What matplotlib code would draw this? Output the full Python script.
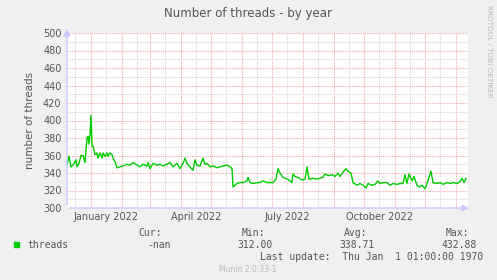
import numpy as np
import matplotlib
matplotlib.use("Agg")
import matplotlib.pyplot as plt
import matplotlib.dates as mdates
from matplotlib.ticker import MultipleLocator, FuncFormatter, NullFormatter
from matplotlib.patches import Rectangle

start = np.datetime64("2021-12-08")
days = [0, 2, 4, 6, 9, 10, 12, 14, 16, 18, 20, 21, 22, 23, 24, 25, 26, 28, 30, 31,
        33, 35, 36, 38, 40, 41, 43, 45, 46, 48, 50, 53, 56, 60, 63, 66, 70, 73, 76, 80,
        81, 83, 86, 90, 93, 96, 100, 103, 106, 110, 113, 116, 118, 120, 123, 126, 128, 130, 133, 136,
        138, 140, 143, 146, 150, 153, 156, 160, 163, 165, 166, 170, 173, 176, 180, 181, 183, 186, 190,
        193, 196, 200, 203, 206, 209, 211, 213, 216, 218, 221, 225, 226, 228, 231, 235, 238, 240, 242,
        246, 250, 253, 256, 258, 261, 265, 268, 271, 273, 276, 279, 281, 284, 286, 290, 293, 296, 299,
        301, 305, 308, 311, 313, 316, 320, 323, 326, 330, 333, 336, 338, 340, 342, 345, 347, 350, 352,
        355, 358, 360, 364, 366, 370, 373, 376, 380, 383, 386, 390, 393, 395, 397, 399]
threads = [349, 359, 347, 349, 355, 347, 351, 360, 360, 352, 380, 382, 373, 383, 406, 371, 371, 361, 363, 357,
           363, 357, 363, 359, 363, 359, 363, 361, 357, 353, 346, 347, 348, 350, 349, 352, 349, 347, 350, 348,
           352, 345, 351, 349, 350, 348, 350, 352, 347, 351, 345, 351, 357, 351, 347, 343, 355, 349, 348, 357,
           350, 351, 347, 348, 346, 347, 348, 349, 347, 345, 324, 328, 329, 329, 331, 335, 329, 328, 329,
           329, 331, 329, 329, 329, 333, 345, 340, 335, 334, 333, 329, 339, 336, 335, 332, 333, 347, 333,
           334, 333, 334, 335, 339, 337, 338, 336, 340, 336, 341, 345, 342, 340, 329, 326, 328, 326, 323,
           328, 326, 327, 331, 328, 329, 329, 326, 328, 327, 328, 328, 338, 328, 339, 331, 336, 326, 324,
           326, 322, 328, 342, 329, 328, 329, 327, 329, 328, 329, 328, 330, 334, 329, 334]
stat_labels = ["Cur:", "Min:", "Avg:", "Max:"]
stat_values = ["-nan", "312.00", "338.71", "432.88"]
label_months = [1, 4, 7, 10]

W, H = 497, 280
BG = "#f0f0f0"
TXT = "#555555"
AXC = "#c8c8ff"

dates = start + np.array(days).astype("timedelta64[D]")

fig = plt.figure(figsize=(W / 100, H / 100), dpi=100, facecolor=BG)
ax = fig.add_axes([67 / W, 72 / H, 401 / W, 175 / H])
ax.set_facecolor("white")

ax.plot(dates, threads, color="#00cc00", lw=1.0, zorder=5)

ax.set_xlim(start, start + np.timedelta64(401, "D"))
ax.set_ylim(300, 500)

# grid: red dotted at month starts / every 20, grey dotted mid-month / every 10
ax.xaxis.set_major_locator(mdates.MonthLocator())
ax.xaxis.set_minor_locator(mdates.MonthLocator(bymonthday=16))
ax.xaxis.set_major_formatter(NullFormatter())
ax.xaxis.set_minor_formatter(FuncFormatter(
    lambda v, p: mdates.num2date(v).strftime("%B %Y") if mdates.num2date(v).month in label_months else ""))
ax.yaxis.set_major_locator(MultipleLocator(20))
ax.yaxis.set_minor_locator(MultipleLocator(10))
ax.grid(which="minor", color="#d6d6d6", linestyle=(0, (1, 1)), lw=0.8)
ax.grid(which="major", color="#f3a8a8", linestyle=(0, (1, 1)), lw=0.8)
ax.set_axisbelow(True)

ax.tick_params(which="both", length=0, colors=TXT, labelsize=7)
ax.tick_params(axis="y", pad=4)
ax.tick_params(axis="x", which="minor", pad=3)

for s in ax.spines.values():
    s.set_visible(False)

# axis lines with arrows like rrdtool
ax.annotate("", xy=(0, 1.04), xytext=(0, 0), xycoords="axes fraction",
            arrowprops=dict(arrowstyle="-|>,head_width=0.2,head_length=0.4", color=AXC, lw=1), zorder=6)
ax.annotate("", xy=(1.01, 0), xytext=(0, 0), xycoords="axes fraction",
            arrowprops=dict(arrowstyle="-|>,head_width=0.2,head_length=0.4", color=AXC, lw=1), zorder=6)

ax.set_ylabel("number of threads", color=TXT, fontsize=7.5, labelpad=6)

def px(x, y):
    return x / W, 1 - y / H

fig.text(*px(248, 13), "Number of threads - by year", ha="center", va="center",
         color=TXT, fontsize=8.5)
fig.text(*px(489, 5), "RRDTOOL / TOBI OETIKER", rotation=270, ha="center", va="top",
         color="#bbbbbb", fontsize=5.2)

# legend block
mono = "DejaVu Sans Mono"
fig.patches.append(Rectangle(px(14, 247), 5 / W, 5 / H, transform=fig.transFigure,
                             facecolor="#00cc00", edgecolor="#00cc00"))
fig.text(*px(27, 245), "threads", family=mono, fontsize=7, color=TXT, va="center")
head_x = [162, 265, 367, 469]
val_x = [171, 273, 375, 477]
for hx, vx, lab, val in zip(head_x, val_x, stat_labels, stat_values):
    fig.text(*px(hx, 233), lab, family=mono, fontsize=7, color=TXT, va="center", ha="right")
    fig.text(*px(vx, 245), val, family=mono, fontsize=7, color=TXT, va="center", ha="right")
fig.text(*px(483, 257), "Last update:  Thu Jan  1 01:00:00 1970", family=mono, fontsize=7,
         color=TXT, va="center", ha="right")
fig.text(*px(248, 269), "Munin 2.0.33-1", fontsize=5.5, color="#bbbbbb", ha="center", va="center")

fig.savefig("out.png", dpi=100, facecolor=BG)
